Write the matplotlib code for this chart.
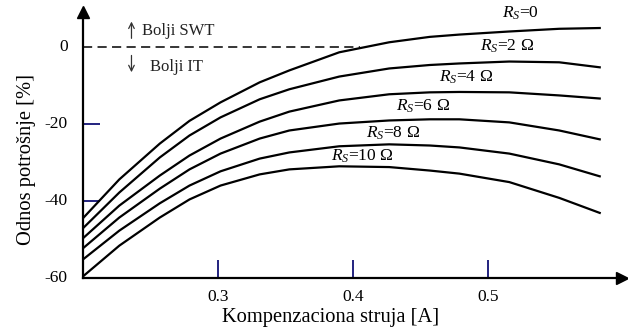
import matplotlib
matplotlib.use('Agg')
import matplotlib.pyplot as plt

# data
struja = [0.200, 0.227, 0.257, 0.279, 0.302, 0.331, 0.353, 0.390, 0.427, 0.457, 0.479, 0.516, 0.553, 0.583]
rs0 = [-44.5, -34.4, -25.1, -19.2, -14.4, -9.2, -6.1, -1.4, 1.2, 2.6, 3.2, 4.0, 4.7, 4.9]
rs2 = [-47.1, -37.8, -28.7, -23.0, -18.3, -13.6, -11.0, -7.7, -5.6, -4.7, -4.3, -3.8, -4.0, -5.3]
rs4 = [-49.7, -41.2, -33.4, -28.2, -23.8, -19.4, -16.8, -13.9, -12.3, -11.8, -11.7, -11.8, -12.6, -13.4]
rs6 = [-52.3, -44.3, -36.8, -31.8, -27.7, -23.8, -21.7, -19.9, -19.1, -18.8, -18.8, -19.6, -21.7, -24.0]
rs8 = [-55.2, -47.7, -40.6, -36.0, -32.3, -29.0, -27.4, -25.8, -25.3, -25.6, -26.1, -27.7, -30.5, -33.6]
rs10 = [-59.6, -51.6, -44.3, -39.6, -36.0, -33.1, -31.8, -31.0, -31.2, -32.1, -32.9, -35.1, -39.2, -43.1]
krive = [rs0, rs2, rs4, rs6, rs8, rs10]

oznake = ['$R_S$=0', '$R_S$=2 Ω', '$R_S$=4 Ω', '$R_S$=6 Ω', '$R_S$=8 Ω', '$R_S$=10 Ω']
oznake_x = [0.524, 0.514, 0.484, 0.452, 0.430, 0.407]
oznake_y = [8.6, 0.2, -7.8, -15.4, -22.4, -28.4]

xticks = [0.3, 0.4, 0.5]
yticks = [-20, -40]
ylabels = [0, -20, -40, -60]

plt.rcParams['font.family'] = ['Liberation Serif', 'DejaVu Serif']
plt.rcParams['mathtext.fontset'] = 'custom'
plt.rcParams['mathtext.rm'] = 'Liberation Serif'
plt.rcParams['mathtext.it'] = 'Liberation Serif:italic'

plava = '#23237f'

fig = plt.figure(figsize=(6.28, 3.29), dpi=100)
ax = fig.add_axes([0.132, 0.155, 0.858, 0.809])
ax.set_xlim(0.2, 0.5993)
ax.set_ylim(-60, 9.1)

for k in krive:
    ax.plot(struja, k, color='black', lw=1.6, solid_joinstyle='round')

# dashed zero line up to the Rs=0 curve
ax.plot([0.2, 0.405], [0, 0], color='black', lw=1.1, ls=(0, (6, 3.5)))

for t, x, y in zip(oznake, oznake_x, oznake_y):
    ax.text(x, y, t, ha='center', va='center', fontsize=12.5)

# better SWT / IT arrows
ax.annotate('', xy=(0.236, 7.3), xytext=(0.236, 1.5),
            arrowprops=dict(arrowstyle='->', color='#333333', lw=0.9))
ax.annotate('', xy=(0.236, -7.3), xytext=(0.236, -1.5),
            arrowprops=dict(arrowstyle='->', color='#333333', lw=0.9))
ax.text(0.244, 4.2, 'Bolji SWT', ha='left', va='center', fontsize=12, color='#222222')
ax.text(0.250, -5.2, 'Bolji IT', ha='left', va='center', fontsize=12, color='#222222')

# spines with arrowheads
for s in ['top', 'right']:
    ax.spines[s].set_visible(False)
ax.spines['left'].set_linewidth(1.6)
ax.spines['bottom'].set_linewidth(1.6)
ax.plot(1, 0, '>', color='black', ms=8, transform=ax.transAxes, clip_on=False)
ax.plot(0, 1, '^', color='black', ms=8, transform=ax.transAxes, clip_on=False)

# blue inward ticks
ax.set_xticks(xticks)
ax.set_xticklabels([str(v) for v in xticks])
ax.tick_params(axis='x', direction='in', length=13, width=1.4, color=plava,
               pad=8, labelsize=12.5)
ax.set_yticks(yticks)
ax.set_yticklabels([])
ax.tick_params(axis='y', direction='in', length=12, width=1.4, color=plava)
for v in ylabels:
    ax.text(-0.028, v, str(v), transform=ax.get_yaxis_transform(), ha='right',
            va='center', fontsize=12.5)

ax.set_xlabel('Kompenzaciona struja [A]', fontsize=14.8)
ax.xaxis.set_label_coords(0.46, -0.150)
ax.xaxis.label.set_verticalalignment('center')
ax.set_ylabel('Odnos potrošnje [%]', fontsize=14.8)
ax.yaxis.set_label_coords(-0.104, 0.444)
ax.yaxis.label.set_verticalalignment('center')

fig.savefig('out.png', dpi=100)
